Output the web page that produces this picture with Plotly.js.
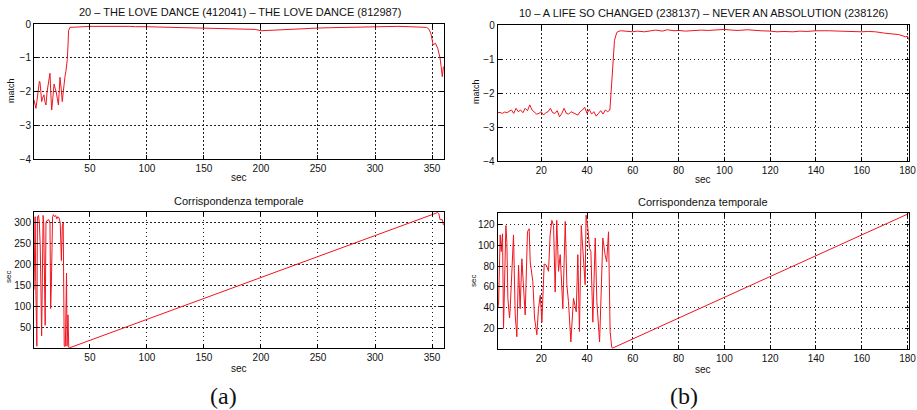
<!DOCTYPE html>
<html>
<head>
<meta charset="utf-8">
<script src="https://cdn.plot.ly/plotly-3.0.1.min.js"></script>
<style>html,body{margin:0;padding:0;background:#fff;}#chart{width:917px;height:410px;}</style>
</head>
<body>
<div id="chart"></div>
<script>
// (a) top: match vs sec
var aMatchX = [1,2,2.7,3.5,4.8,5.7,6.2,7,7.7,8.5,9.7,10.5,11.5,12.5,13.5,14.2,15,15.8,16.5,17.5,18.6,19.5,20.4,21.4,22.4,23.1,23.8,24.8,25.8,26.7,27.5,28.2,29,30.2,30.8,31.3,32.5,35,40,45,50,55,60,65,70,75,80,85,90,95,100,110,120,130,140,150,160,170,180,190,195,200,205,210,220,230,240,250,260,270,280,290,300,310,320,330,340,343,345,347,349,351,353,355,357,358,359,360];
var aMatchY = [-2.25,-2.4,-2.5,-2.3,-1.96,-1.7,-1.71,-2.0,-2.3,-2.2,-2.1,-2.3,-2.4,-2.0,-1.71,-1.55,-1.46,-2.1,-2.55,-2.2,-1.78,-1.9,-2.0,-2.2,-2.4,-2.0,-1.58,-1.9,-2.3,-2.0,-1.7,-1.55,-1.4,-1.05,-0.65,-0.2,-0.1,-0.1,-0.09,-0.08,-0.07,-0.07,-0.06,-0.07,-0.05,-0.06,-0.06,-0.07,-0.08,-0.07,-0.08,-0.09,-0.1,-0.11,-0.12,-0.13,-0.14,-0.15,-0.16,-0.17,-0.16,-0.2,-0.19,-0.18,-0.16,-0.14,-0.13,-0.12,-0.11,-0.1,-0.09,-0.08,-0.07,-0.06,-0.07,-0.08,-0.08,-0.09,-0.1,-0.14,-0.28,-0.62,-0.57,-0.72,-1.0,-1.26,-1.56,-1.26,-1.75];

// (a) bottom: temporal correspondence
var aCorrX = [1,1.5,2,2.5,3,3.5,4,5,5.7,6.5,7.7,8.5,9,9.5,10.2,10.8,11.5,12,14,15,15.6,16.2,17.3,18,19,20,21,22,23,24,25,25.8,26.6,27.5,28.5,29.5,30,30.8,31.5,32,355,356,357,359,360];
var aCorrY = [140,315,315,160,5,5,315,318,300,240,30,250,318,300,190,55,300,305,308,300,95,150,315,320,315,318,310,315,312,300,210,290,300,5,5,180,5,80,2,1,325,322,308,308,295];

// (b) top: match vs sec
var bMatchX = [1,2,3,4,5,6,7,8,9,10,11,12,13,14,15,16,17,18,19,20,21,22,23,24,25,26,27,28,29,30,31,32,33,34,35,36,37,38,39,40,41,42,43,44,45,46,47,48,49,50,51,52,53,54,55,58,60,62,65,68,70,73,75,78,80,83,86,90,93,96,100,103,106,110,113,116,120,123,126,130,133,136,140,143,146,150,153,156,160,163,166,170,173,176,178,179,180,181];
var bMatchY = [-2.58,-2.57,-2.6,-2.56,-2.58,-2.55,-2.5,-2.6,-2.45,-2.55,-2.5,-2.58,-2.45,-2.52,-2.35,-2.5,-2.55,-2.62,-2.6,-2.55,-2.65,-2.58,-2.55,-2.45,-2.58,-2.6,-2.52,-2.7,-2.6,-2.45,-2.6,-2.62,-2.55,-2.58,-2.6,-2.65,-2.55,-2.5,-2.42,-2.6,-2.48,-2.62,-2.55,-2.68,-2.6,-2.52,-2.62,-2.5,-2.55,-2.5,-1.5,-0.45,-0.22,-0.18,-0.17,-0.19,-0.2,-0.18,-0.2,-0.17,-0.15,-0.18,-0.14,-0.17,-0.16,-0.18,-0.16,-0.15,-0.16,-0.15,-0.13,-0.15,-0.16,-0.14,-0.16,-0.17,-0.18,-0.2,-0.19,-0.2,-0.18,-0.19,-0.17,-0.18,-0.17,-0.18,-0.19,-0.18,-0.2,-0.19,-0.2,-0.24,-0.25,-0.28,-0.32,-0.35,-0.33,-0.5];

// (b) bottom: temporal correspondence
var bCorrX = [1,1.36,2.09,2.53,3.11,3.55,4.57,5.0,5.44,6.17,6.46,7.19,7.91,8.64,9.37,10.1,10.8,11.55,12.28,13.0,14.0,14.75,15.2,16.35,17.1,18.1,18.8,19.6,20.3,21.3,22.2,23.2,23.9,24.65,25.4,26.1,26.8,27.56,28.3,29.45,30.5,31.2,31.9,32.95,34.1,35.3,36.0,36.7,37.5,38.5,39.2,39.6,40.4,41.1,41.7,42.55,43.6,44.3,45.5,46.2,46.9,47.9,48.6,49.4,50.1,50.8,51.1,181];
var bCorrY = [40,42,110,94,111,20,119,103,49,30,39,81,110,33,12,81,39,87,58,33,113,116,84,65,30,14,39,52,26,82,81,75,110,124,119,55,124,75,91,39,123,62,46,7,49,36,91,17,119,84,62,129,116,97,94,26,107,46,7,55,107,91,84,113,17,2,1,131];

var aXTicks = [50,100,150,200,250,300,350];
var bXTicks = [20,40,60,80,100,120,140,160,180];
var matchTicks = [0,-1,-2,-3,-4];
var aCorrTicks = [50,100,150,200,250,300];
var bCorrTicks = [20,40,60,80,100,120];

var W = 917, H = 410;
function dx(a,b){return [a/W,b/W];}
function dy(top,bottom){return [1-bottom/H,1-top/H];}

var lineStyle = {color:'#f0141e', width:1};
var traces = [
  {x:aMatchX, y:aMatchY, xaxis:'x', yaxis:'y', mode:'lines', line:lineStyle},
  {x:aCorrX, y:aCorrY, xaxis:'x2', yaxis:'y2', mode:'lines', line:lineStyle},
  {x:bMatchX, y:bMatchY, xaxis:'x3', yaxis:'y3', mode:'lines', line:lineStyle},
  {x:bCorrX, y:bCorrY, xaxis:'x4', yaxis:'y4', mode:'lines', line:lineStyle}
];

var tickFont = {family:'Liberation Sans, Arial, sans-serif', size:10, color:'#111'};
function ax(domain, range, ticks, anchor){
  return {domain:domain, range:range, anchor:anchor, tickmode:'array', tickvals:ticks,
    ticks:'inside', ticklen:4, tickcolor:'#000', tickwidth:1,
    showline:true, linecolor:'#000', linewidth:1, mirror:'ticks',
    showgrid:true, gridcolor:'#222', griddash:'1.5px,2.5px', gridwidth:1,
    zeroline:false, tickfont:tickFont, fixedrange:true, automargin:false};
}

var layout = {
  width:W, height:H, margin:{l:0,r:0,t:0,b:0}, paper_bgcolor:'#fff', plot_bgcolor:'#fff',
  showlegend:false, hovermode:false,
  xaxis: ax(dx(34,444), [1,360.5], aXTicks, 'y'),
  yaxis: ax(dy(24,159), [-4,0], matchTicks, 'x'),
  xaxis2: ax(dx(34,444), [1,360.5], aXTicks, 'y2'),
  yaxis2: ax(dy(211.7,348.3), [0,327], aCorrTicks, 'x2'),
  xaxis3: ax(dx(497.7,908.7), [1,180.5], bXTicks, 'y3'),
  yaxis3: ax(dy(25,161), [-4,0], matchTicks, 'x3'),
  xaxis4: ax(dx(497.7,908.7), [1,180.5], bXTicks, 'y4'),
  yaxis4: ax(dy(213.3,349), [0.2,130.8], bCorrTicks, 'x4'),
  annotations: []
};

function ann(text, x, y, size, angle, family){
  layout.annotations.push({text:text, xref:'paper', yref:'paper', x:x/W, y:1-y/H,
    xanchor:'center', yanchor:'middle', showarrow:false, textangle:angle||0,
    font:{family:family||'Liberation Sans, Arial, sans-serif', size:size, color:'#111'}});
}
ann('20 – THE LOVE DANCE (412041) – THE LOVE DANCE (812987)', 240, 12, 11);
ann('10 – A LIFE SO CHANGED (238137) – NEVER AN ABSOLUTION (238126)', 703, 13, 11);
ann('Corrispondenza temporale', 239, 201, 11);
ann('Corrispondenza temporale', 703, 202, 11);
ann('sec', 239, 178, 10);
ann('sec', 239, 368, 10);
ann('sec', 703, 180, 10);
ann('sec', 703, 369, 10);
ann('match', 11, 91, 9, -90);
ann('match', 476, 92, 9, -90);
ann('sec', 8, 277, 8, -90);
ann('sec', 473, 281, 8, -90);
ann('(a)', 223, 396, 24, 0, 'Liberation Serif, Times New Roman, serif');
ann('(b)', 684, 396, 24, 0, 'Liberation Serif, Times New Roman, serif');

Plotly.newPlot('chart', traces, layout, {staticPlot:true, displayModeBar:false});
</script>
</body>
</html>
